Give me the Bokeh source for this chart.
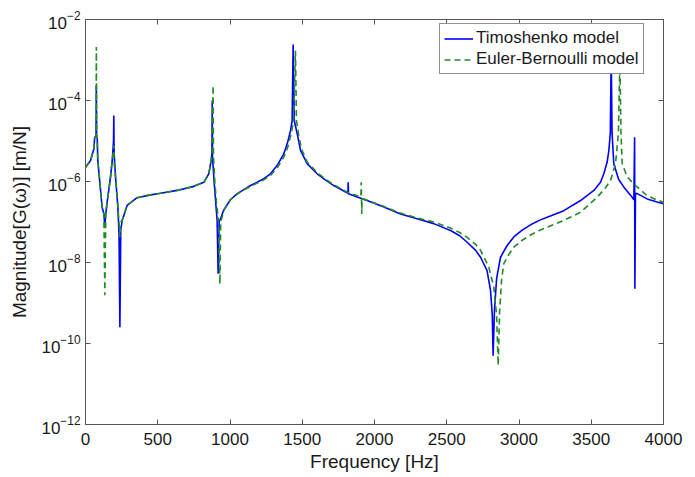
import numpy as np
from bokeh.plotting import figure
from bokeh.models import (LogAxis, LinearAxis, FixedTicker, Legend, LegendItem, Range1d,
                          CustomJSTickFormatter)
from bokeh.embed import file_html
from bokeh.resources import INLINE

# ---- data (frequency in Hz, log10 of magnitude in m/N) ----
timo_freq = [0, 35, 58, 64, 73, 75, 77, 81, 85, 115, 127, 134, 140, 150, 173, 185, 194, 196, 198,
             208, 224, 232, 238, 244, 254, 288, 357, 450, 519, 634, 750, 819, 853, 870, 875, 877,
             879, 890, 900, 911, 918, 925, 939, 957, 1003, 1050, 1096, 1142, 1188, 1234, 1280,
             1327, 1372, 1396, 1419, 1430, 1437, 1445, 1465, 1488, 1534, 1603, 1660, 1718, 1816,
             1818, 1820, 1880, 1949, 2065, 2180, 2295, 2410, 2526, 2590, 2641, 2700, 2734, 2779,
             2803, 2815, 2821, 2830, 2845, 2872, 2918, 2964, 3022, 3080, 3140, 3195, 3310, 3426,
             3518, 3564, 3587, 3610, 3622, 3632, 3638, 3644, 3656, 3690, 3726, 3783, 3795, 3800,
             3802, 3806, 3818, 3887, 3950, 4000]
timo_logmag = [-5.65, -5.48, -5.19, -4.9, -4.9, -3.63, -4.9, -4.9, -5.48, -6.63, -6.8, -7.1, -6.8,
               -6.51, -5.89, -5.48, -5.0, -4.37, -5.3, -5.89, -6.63, -7.3, -9.6, -7.2, -6.96, -6.59,
               -6.4, -6.33, -6.29, -6.22, -6.12, -6.02, -5.81, -5.48, -5.3, -4.0, -5.4, -6.0, -6.47,
               -6.96, -8.28, -7.0, -6.88, -6.7, -6.45, -6.30, -6.20, -6.10, -6.02, -5.93, -5.81,
               -5.60, -5.32, -5.07, -4.74, -4.5, -2.62, -4.5, -4.82, -5.23, -5.56, -5.81, -5.96,
               -6.10, -6.29, -6.02, -6.30, -6.38, -6.47, -6.63, -6.80, -6.92, -7.04, -7.21, -7.34,
               -7.50, -7.70, -7.87, -8.2, -8.69, -9.3, -10.3, -9.2, -8.4, -7.87, -7.58, -7.37,
               -7.20, -7.07, -6.96, -6.88, -6.72, -6.47, -6.22, -6.02, -5.81, -5.52, -5.23, -4.8,
               -2.9, -4.8, -5.56, -5.95, -6.14, -6.39, -6.45, -4.91, -8.65, -6.3, -6.30, -6.43,
               -6.50, -6.55]

eb_freq = [0, 35, 58, 64, 73, 75, 77, 81, 85, 115, 127, 134, 140, 150, 173, 185, 194, 196, 198,
           208, 224, 232, 238, 244, 254, 288, 357, 450, 519, 634, 750, 819, 853, 870, 878, 883,
           886, 895, 905, 920, 930, 936, 945, 960, 1003, 1050, 1096, 1142, 1188, 1234, 1280, 1327,
           1372, 1400, 1425, 1440, 1453, 1460, 1475, 1495, 1534, 1603, 1660, 1718, 1820, 1906,
           1908, 1912, 1914, 1949, 2065, 2180, 2295, 2410, 2526, 2590, 2641, 2700, 2734, 2790,
           2825, 2845, 2856, 2866, 2880, 2895, 2930, 2964, 3022, 3080, 3140, 3195, 3310, 3426,
           3541, 3600, 3633, 3668, 3688, 3698, 3706, 3714, 3749, 3806, 3887, 3950, 4000]
eb_logmag = [-5.65, -5.48, -5.19, -4.9, -4.9, -2.68, -4.9, -4.9, -5.48, -6.63, -6.8, -8.81, -6.8,
             -6.51, -5.89, -5.48, -5.2, -5.11, -5.5, -5.89, -6.63, -7.0, -7.37, -7.0, -6.96, -6.59,
             -6.4, -6.33, -6.29, -6.22, -6.12, -6.02, -5.82, -5.48, -5.3, -3.63, -5.4, -6.0, -6.47,
             -6.96, -8.53, -7.0, -6.88, -6.7, -6.45, -6.31, -6.21, -6.12, -6.04, -5.96, -5.85,
             -5.66, -5.40, -5.15, -4.80, -4.5, -2.77, -4.5, -4.85, -5.20, -5.52, -5.78, -5.94,
             -6.08, -6.28, -6.38, -6.02, -6.80, -6.42, -6.46, -6.62, -6.78, -6.90, -7.00, -7.15,
             -7.26, -7.38, -7.55, -7.70, -8.1, -8.6, -9.3, -10.54, -9.2, -8.4, -8.03, -7.80,
             -7.62, -7.45, -7.32, -7.21, -7.13, -6.96, -6.76, -6.39, -6.15, -5.98, -5.56, -4.8,
             -3.0, -4.8, -5.56, -5.89, -6.10, -6.35, -6.45, -6.51]

x_ticks = [0, 500, 1000, 1500, 2000, 2500, 3000, 3500, 4000]
y_ticks = [1e-12, 1e-10, 1e-8, 1e-6, 1e-4, 1e-2]

FONT = "Liberation Sans"
AX = "#555555"
TXT = "#1a1a1a"

p = figure(width=695, height=477, x_range=Range1d(0, 4000), y_range=Range1d(1e-12, 1e-2),
           y_axis_type="log", output_backend="svg", toolbar_location=None,
           min_border_left=85, min_border_right=32, min_border_top=19, min_border_bottom=53)
p.xgrid.visible = False
p.ygrid.visible = False
p.outline_line_color = AX
p.background_fill_color = "white"
p.border_fill_color = "white"

r1 = p.line(timo_freq, 10.0 ** np.array(timo_logmag), line_color="#0000ff", line_width=1.6)
r2 = p.line(eb_freq, 10.0 ** np.array(eb_logmag), line_color="#228b22", line_width=1.6,
            line_dash="6 4")

xa = p.below[0]
ya = p.left[0]
xa.ticker = FixedTicker(ticks=x_ticks, minor_ticks=[])
ya.ticker = FixedTicker(ticks=y_ticks, minor_ticks=[])
xa.axis_label = "Frequency [Hz]"
ya.axis_label = "Magnitude[G(ω)] [m/N]"

top = LinearAxis(ticker=FixedTicker(ticks=x_ticks, minor_ticks=[]),
                 formatter=CustomJSTickFormatter(code="return ''"))
right = LogAxis(ticker=FixedTicker(ticks=y_ticks, minor_ticks=[]),
                formatter=CustomJSTickFormatter(code="return ''"))
for ax in (top, right):
    ax.major_label_text_font_size = "1px"
    ax.major_label_standoff = 0
p.add_layout(top, "above")
p.add_layout(right, "right")

for ax in (xa, ya, top, right):
    ax.axis_line_color = AX
    ax.major_tick_line_color = AX
    ax.major_tick_in = 5
    ax.major_tick_out = 0
    ax.minor_tick_in = 0
    ax.minor_tick_out = 0

for ax in (xa, ya):
    ax.major_label_text_font = FONT
    ax.axis_label_text_font = FONT
    ax.axis_label_text_font_style = "normal"
    ax.major_label_text_color = TXT
    ax.axis_label_text_color = TXT
    ax.major_label_text_font_size = "17px"
    ax.axis_label_text_font_size = "19px"

xa.major_label_standoff = 8
xa.axis_label_standoff = 3
ya.major_label_standoff = 5
ya.axis_label_standoff = 8

legend = Legend(items=[LegendItem(label="Timoshenko model", renderers=[r1]),
                       LegendItem(label="Euler-Bernoulli model", renderers=[r2])],
                location=(354, 350), margin=0, padding=4, spacing=1,
                glyph_width=29, glyph_height=19, label_height=19, label_standoff=3,
                label_text_font=FONT, label_text_font_size="17px", label_text_color=TXT,
                border_line_color="#222222", border_line_width=1,
                background_fill_color="white", background_fill_alpha=1.0)
p.add_layout(legend)

open("out.html", "w").write(file_html(p, INLINE))
